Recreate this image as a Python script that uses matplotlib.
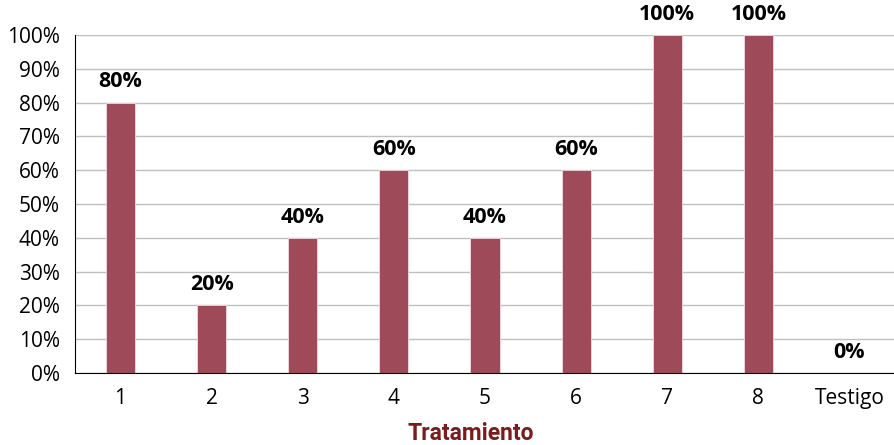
import matplotlib
matplotlib.use("Agg")
import matplotlib.pyplot as plt
from matplotlib.ticker import PercentFormatter

categories = ["1", "2", "3", "4", "5", "6", "7", "8", "Testigo"]
values = [80, 20, 40, 60, 40, 60, 100, 100, 0]
yticks = [0, 10, 20, 30, 40, 50, 60, 70, 80, 90, 100]

bar_color = "#9E4A58"
title_color = "#7A1C1C"

plt.rcParams["font.family"] = ["Open Sans", "DejaVu Sans"]

fig = plt.figure(figsize=(8.95, 4.45), dpi=100)
ax = fig.add_axes([75 / 895, 72 / 445, 820 / 895, 338 / 445])

x = list(range(len(categories)))
ax.bar(x, values, width=0.32, color=bar_color, edgecolor="#F2DADF",
       linewidth=0.6, zorder=3)

for xi, v in zip(x, values):
    ax.text(xi, v + 3, f"{v}%", ha="center", va="bottom",
            fontsize=15.5, fontweight="bold", color="black", zorder=4)

ax.set_xlim(-0.5, len(categories) - 0.5)
ax.set_ylim(0, 100)
ax.set_yticks(yticks)
ax.yaxis.set_major_formatter(PercentFormatter(decimals=0))
ax.set_xticks(x)
ax.set_xticklabels(categories)
ax.tick_params(axis="both", labelsize=15, length=0)
ax.tick_params(axis="y", pad=11)
ax.tick_params(axis="x", pad=11)

ax.grid(axis="y", color="#C0C0C0", linewidth=1, zorder=0)
for s in ["top", "right"]:
    ax.spines[s].set_visible(False)
ax.spines["left"].set_color("black")
ax.spines["bottom"].set_color("black")
ax.spines["left"].set_zorder(5)
ax.spines["bottom"].set_zorder(5)

ax.set_xlabel("Tratamiento", fontsize=16.5, fontweight="bold",
              family=["Liberation Sans Narrow", "Roboto", "DejaVu Sans"],
              color=title_color)
ax.xaxis.set_label_coords(0.483, -0.145)

fig.savefig("out.png", dpi=100)
